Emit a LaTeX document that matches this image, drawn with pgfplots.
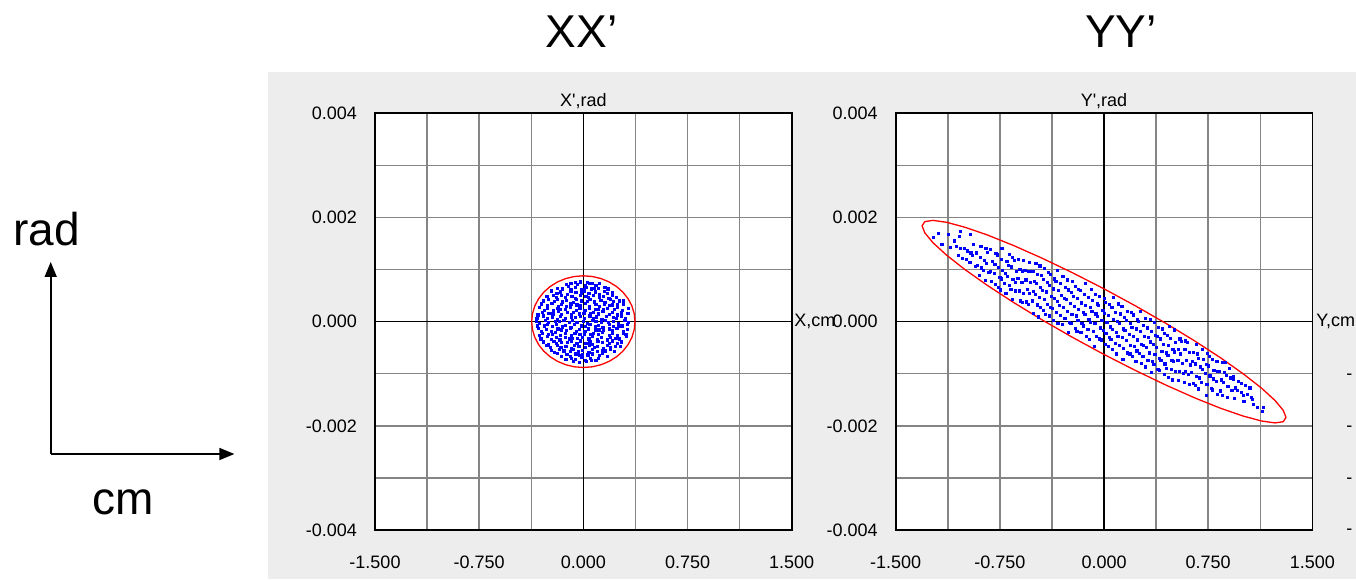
\documentclass[border=0pt]{standalone}
\usepackage{fontspec}
\setmainfont{Liberation Sans}
\usepackage{pgfplots}
\pgfplotsset{compat=1.18}
\usetikzlibrary{arrows.meta}
\definecolor{panelgray}{HTML}{EDEDED}
\definecolor{gridgray}{HTML}{858585}
\definecolor{ptblue}{HTML}{0000FF}
\definecolor{ellred}{HTML}{FF0000}
\pgfplotsset{
  phase/.style={
    scale only axis, width=208.35pt, height=208.35pt,
    anchor=south west,
    xmin=-1.5, xmax=1.5, ymin=-0.004, ymax=0.004,
    xtick={-1.5,-0.75,0,0.75,1.5},
    xticklabels={-1.500,-0.750,0.000,0.750,1.500},
    minor xtick={-1.125,-0.375,0.375,1.125},
    ytick={-0.004,-0.002,0,0.002,0.004},
    yticklabels={-0.004,-0.002,0.000,0.002,0.004},
    minor ytick={-0.003,-0.001,0.001,0.003},
    scaled x ticks=false, scaled y ticks=false,
    grid=both,
    major grid style={draw=gridgray, line width=0.75pt},
    minor grid style={draw=gridgray, line width=0.75pt},
    major tick length=0pt, minor tick length=0pt,
    axis line style={black, line width=0.85pt},
    axis background/.style={fill=white},
    tick label style={font=\fontsize{9}{10}\selectfont, text=black},
    xticklabel style={yshift=-9.5pt},
    yticklabel style={xshift=-5.5pt},
    /pgf/number format/assume math mode=true,
    clip=true,
  },
  dots/.style={only marks, mark=square*, mark size=0.55pt, color=ptblue, mark options={draw=ptblue, fill=ptblue}},
}
\begin{document}
\begin{tikzpicture}[x=1pt,y=1pt]
\useasboundingbox (0,0) rectangle (678,289.5);
\fill[panelgray] (134,0) rectangle (678,253.5);
% left explanatory arrows
\draw[line width=0.8pt, -{Triangle[length=7.5pt,width=6pt]}] (25.35,62.5) -- (25.35,158.5);
\draw[line width=0.8pt, -{Triangle[length=7.5pt,width=6pt]}] (25.35,62.5) -- (117.2,62.5);
\node[anchor=base west, inner sep=0pt, font=\fontsize{23}{26}\selectfont] at (6.5,166.7) {rad};
\node[anchor=base west, inner sep=0pt, font=\fontsize{23}{26}\selectfont] at (46,32) {cm};
\node[anchor=base, inner sep=0pt, font=\fontsize{23}{26}\selectfont] at (290.75,265.5) {XX’};
\node[anchor=base, inner sep=0pt, font=\fontsize{23}{26}\selectfont] at (560.5,265.5) {YY’};
% ---------------- XX' ----------------
\begin{axis}[phase, at={(187.5pt,24.5pt)}]
\draw[black, line width=0.6pt] (0,-0.004) -- (0,0.004);
\draw[black, line width=0.6pt] (-1.5,0) -- (1.5,0);
\addplot[dots] coordinates {
(-0.060,0.00075) (-0.020,0.00077) (0.030,0.00076) (0.065,0.00074)
(-0.120,0.00072) (-0.089,0.00074) (-0.045,0.00071) (-0.023,0.00075) (0.015,0.00070) (0.042,0.00073) (0.091,0.00069) (0.116,0.00074)
(-0.185,0.00064) (-0.150,0.00063) (-0.109,0.00067) (-0.089,0.00062) (-0.056,0.00065) (-0.010,0.00061) (0.019,0.00066) (0.056,0.00063) (0.080,0.00064) (0.111,0.00064) (0.155,0.00066) (0.177,0.00063)
(-0.228,0.00059) (-0.190,0.00054) (-0.163,0.00057) (-0.114,0.00053) (-0.089,0.00058) (-0.054,0.00056) (-0.013,0.00055) (0.007,0.00059) (0.040,0.00054) (0.086,0.00057) (0.115,0.00053) (0.152,0.00058) (0.176,0.00055) (0.207,0.00056)
(-0.262,0.00048) (-0.218,0.00050) (-0.196,0.00047) (-0.158,0.00051) (-0.131,0.00046) (-0.082,0.00049) (-0.057,0.00045) (-0.022,0.00050) (0.019,0.00048) (0.039,0.00047) (0.072,0.00051) (0.118,0.00046) (0.147,0.00049) (0.184,0.00045) (0.208,0.00050) (0.239,0.00047)
(-0.285,0.00040) (-0.254,0.00042) (-0.210,0.00039) (-0.188,0.00043) (-0.150,0.00038) (-0.123,0.00041) (-0.074,0.00037) (-0.049,0.00042) (-0.014,0.00040) (0.027,0.00039) (0.047,0.00043) (0.080,0.00038) (0.126,0.00041) (0.155,0.00037) (0.192,0.00042) (0.216,0.00039) (0.258,0.00040) (0.286,0.00040)
(-0.300,0.00034) (-0.261,0.00031) (-0.227,0.00035) (-0.180,0.00030) (-0.157,0.00033) (-0.121,0.00029) (-0.090,0.00034) (-0.046,0.00032) (-0.024,0.00031) (0.014,0.00035) (0.041,0.00030) (0.090,0.00033) (0.115,0.00029) (0.150,0.00034) (0.191,0.00031) (0.211,0.00032) (0.244,0.00032) (0.290,0.00034)
(-0.318,0.00027) (-0.281,0.00022) (-0.257,0.00025) (-0.215,0.00021) (-0.187,0.00026) (-0.168,0.00024) (-0.129,0.00023) (-0.095,0.00027) (-0.048,0.00022) (-0.025,0.00025) (0.011,0.00021) (0.042,0.00026) (0.086,0.00023) (0.108,0.00024) (0.146,0.00024) (0.173,0.00026) (0.222,0.00023) (0.247,0.00027) (0.282,0.00022) (0.323,0.00025)
(-0.327,0.00013) (-0.294,0.00018) (-0.248,0.00016) (-0.219,0.00015) (-0.182,0.00019) (-0.158,0.00014) (-0.116,0.00017) (-0.088,0.00013) (-0.069,0.00018) (-0.030,0.00015) (0.004,0.00016) (0.051,0.00016) (0.074,0.00018) (0.110,0.00015) (0.141,0.00019) (0.185,0.00014) (0.207,0.00017) (0.245,0.00013) (0.272,0.00018) (0.321,0.00016)
(-0.334,0.00007) (-0.285,0.00011) (-0.260,0.00006) (-0.225,0.00009) (-0.184,0.00005) (-0.164,0.00010) (-0.131,0.00007) (-0.085,0.00008) (-0.056,0.00008) (-0.019,0.00010) (0.005,0.00007) (0.047,0.00011) (0.075,0.00006) (0.094,0.00009) (0.133,0.00005) (0.167,0.00010) (0.214,0.00008) (0.237,0.00007) (0.273,0.00011) (0.304,0.00006)
(-0.336,0.00001) (-0.314,-0.00003) (-0.276,0.00002) (-0.249,-0.00001) (-0.200,0) (-0.175,0) (-0.140,0.00002) (-0.099,-0.00001) (-0.079,0.00003) (-0.046,-0.00002) (0.000,0.00001) (0.029,-0.00003) (0.066,0.00002) (0.090,0) (0.132,-0.00001) (0.160,0.00003) (0.179,-0.00002) (0.218,0.00001) (0.252,-0.00003) (0.299,0.00002) (0.322,-0.00001)
(-0.330,-0.00008) (-0.283,-0.00008) (-0.260,-0.00006) (-0.224,-0.00009) (-0.193,-0.00005) (-0.149,-0.00010) (-0.127,-0.00007) (-0.089,-0.00011) (-0.062,-0.00006) (-0.013,-0.00008) (0.012,-0.00009) (0.047,-0.00005) (0.088,-0.00010) (0.108,-0.00007) (0.141,-0.00011) (0.187,-0.00006) (0.216,-0.00009) (0.253,-0.00008) (0.277,-0.00008) (0.319,-0.00006)
(-0.322,-0.00013) (-0.303,-0.00018) (-0.264,-0.00015) (-0.230,-0.00019) (-0.183,-0.00014) (-0.160,-0.00016) (-0.124,-0.00017) (-0.093,-0.00013) (-0.049,-0.00018) (-0.027,-0.00015) (0.011,-0.00019) (0.038,-0.00014) (0.087,-0.00017) (0.112,-0.00016) (0.147,-0.00016) (0.188,-0.00014) (0.208,-0.00017) (0.241,-0.00013) (0.287,-0.00018) (0.316,-0.00015)
(-0.317,-0.00027) (-0.293,-0.00022) (-0.251,-0.00024) (-0.223,-0.00025) (-0.204,-0.00021) (-0.165,-0.00026) (-0.131,-0.00023) (-0.084,-0.00027) (-0.061,-0.00022) (-0.025,-0.00025) (0.006,-0.00024) (0.050,-0.00024) (0.072,-0.00022) (0.110,-0.00025) (0.137,-0.00021) (0.186,-0.00026) (0.211,-0.00023) (0.246,-0.00027) (0.287,-0.00022) (0.307,-0.00024)
(-0.305,-0.00033) (-0.259,-0.00029) (-0.230,-0.00034) (-0.193,-0.00031) (-0.169,-0.00035) (-0.127,-0.00030) (-0.099,-0.00033) (-0.080,-0.00032) (-0.041,-0.00032) (-0.007,-0.00030) (0.040,-0.00033) (0.063,-0.00029) (0.099,-0.00034) (0.130,-0.00031) (0.174,-0.00035) (0.196,-0.00030) (0.234,-0.00032) (0.261,-0.00033) (0.310,-0.00029)
(-0.288,-0.00039) (-0.253,-0.00043) (-0.212,-0.00038) (-0.192,-0.00041) (-0.159,-0.00040) (-0.113,-0.00040) (-0.084,-0.00038) (-0.047,-0.00041) (-0.023,-0.00037) (0.019,-0.00042) (0.047,-0.00039) (0.066,-0.00043) (0.105,-0.00038) (0.139,-0.00040) (0.186,-0.00041) (0.209,-0.00037) (0.245,-0.00042) (0.276,-0.00039)
(-0.262,-0.00046) (-0.235,-0.00049) (-0.186,-0.00045) (-0.161,-0.00050) (-0.126,-0.00047) (-0.085,-0.00051) (-0.065,-0.00046) (-0.032,-0.00048) (0.014,-0.00049) (0.043,-0.00045) (0.080,-0.00050) (0.104,-0.00047) (0.146,-0.00051) (0.174,-0.00046) (0.193,-0.00049) (0.232,-0.00048) (0.266,-0.00048)
(-0.230,-0.00055) (-0.207,-0.00059) (-0.171,-0.00054) (-0.140,-0.00056) (-0.096,-0.00057) (-0.074,-0.00053) (-0.036,-0.00058) (-0.009,-0.00055) (0.040,-0.00059) (0.065,-0.00054) (0.100,-0.00057) (0.141,-0.00056) (0.161,-0.00056) (0.194,-0.00054) (0.225,-0.00057)
(-0.185,-0.00061) (-0.156,-0.00066) (-0.119,-0.00063) (-0.095,-0.00067) (-0.053,-0.00062) (-0.025,-0.00065) (-0.006,-0.00064) (0.033,-0.00064) (0.067,-0.00062) (0.114,-0.00065) (0.137,-0.00061) (0.173,-0.00066)
(-0.125,-0.00072) (-0.087,-0.00070) (-0.060,-0.00073) (-0.011,-0.00069) (0.014,-0.00074) (0.049,-0.00071) (0.090,-0.00075) (0.110,-0.00070)
(-0.070,-0.00076) (-0.030,-0.00078) (0.020,-0.00077) (0.060,-0.00075)
};
\addplot[ellred, line width=0.65pt] coordinates {
(0.372,0) (0.3663,0.000153) (0.3496,0.000301) (0.3222,0.00044) (0.285,0.000566) (0.2391,0.000674) (0.186,0.000762) (0.1272,0.000827) (0.0646,0.000867) (0,0.00088)
(-0.0646,0.000867) (-0.1272,0.000827) (-0.186,0.000762) (-0.2391,0.000674) (-0.285,0.000566) (-0.3222,0.00044) (-0.3496,0.000301) (-0.3663,0.000153) (-0.372,0)
(-0.3663,-0.000153) (-0.3496,-0.000301) (-0.3222,-0.00044) (-0.285,-0.000566) (-0.2391,-0.000674) (-0.186,-0.000762) (-0.1272,-0.000827) (-0.0646,-0.000867) (0,-0.00088)
(0.0646,-0.000867) (0.1272,-0.000827) (0.186,-0.000762) (0.2391,-0.000674) (0.285,-0.000566) (0.3222,-0.00044) (0.3496,-0.000301) (0.3663,-0.000153) (0.372,0)
};
\end{axis}
% ---------------- YY' ----------------
\begin{axis}[phase, at={(447.85pt,24.5pt)}]
\draw[black, line width=0.6pt] (0,-0.004) -- (0,0.004);
\draw[black, line width=0.6pt] (-1.5,0) -- (1.5,0);
\addplot[dots] coordinates {
(-1.230,0.00161) (-1.167,0.00148) (-1.107,0.00142) (-1.035,0.00173) (-1.040,0.00163) (-0.963,0.00167) (-1.080,0.00155) (-1.190,0.00170) (-1.120,0.00168)
(-1.050,0.00127) (-1.032,0.00140) (-1.062,0.00145)
(-0.991,0.00119) (-1.020,0.00122) (-0.986,0.00136) (-1.006,0.00141)
(-0.929,0.00106) (-0.966,0.00114) (-0.946,0.00127) (-0.959,0.00132) (-0.938,0.00148)
(-0.900,0.00089) (-0.882,0.00103) (-0.912,0.00108) (-0.891,0.00124) (-0.920,0.00132) (-0.886,0.00145)
(-0.856,0.00079) (-0.829,0.00095) (-0.866,0.00098) (-0.846,0.00112) (-0.859,0.00117) (-0.838,0.00133) (-0.850,0.00141)
(-0.782,0.00072) (-0.812,0.00077) (-0.791,0.00093) (-0.820,0.00096) (-0.786,0.00110) (-0.806,0.00115) (-0.779,0.00131) (-0.816,0.00139)
(-0.746,0.00061) (-0.759,0.00066) (-0.738,0.00082) (-0.750,0.00085) (-0.732,0.00099) (-0.762,0.00104) (-0.741,0.00120) (-0.770,0.00128) (-0.736,0.00141)
(-0.706,0.00054) (-0.679,0.00070) (-0.716,0.00073) (-0.696,0.00087) (-0.709,0.00092) (-0.688,0.00108) (-0.700,0.00116) (-0.682,0.00129)
(-0.662,0.00043) (-0.641,0.00059) (-0.670,0.00062) (-0.636,0.00076) (-0.656,0.00081) (-0.629,0.00097) (-0.666,0.00105) (-0.646,0.00118) (-0.659,0.00123)
(-0.588,0.00037) (-0.600,0.00040) (-0.582,0.00054) (-0.612,0.00059) (-0.591,0.00075) (-0.620,0.00083) (-0.586,0.00096) (-0.606,0.00101) (-0.579,0.00117) (-0.616,0.00120)
(-0.546,0.00033) (-0.559,0.00038) (-0.538,0.00054) (-0.550,0.00062) (-0.532,0.00075) (-0.562,0.00080) (-0.541,0.00096) (-0.570,0.00099) (-0.536,0.00113)
(-0.506,0.00016) (-0.479,0.00032) (-0.516,0.00040) (-0.496,0.00053) (-0.509,0.00058) (-0.488,0.00074) (-0.500,0.00077) (-0.482,0.00091) (-0.512,0.00096) (-0.491,0.00112)
(-0.470,0.00009) (-0.436,0.00022) (-0.456,0.00027) (-0.429,0.00043) (-0.466,0.00046) (-0.446,0.00060) (-0.459,0.00065) (-0.438,0.00081) (-0.450,0.00089) (-0.432,0.00102) (-0.462,0.00107)
(-0.391,0.00011) (-0.420,0.00014) (-0.386,0.00028) (-0.406,0.00033) (-0.379,0.00049) (-0.416,0.00057) (-0.396,0.00070) (-0.409,0.00075) (-0.388,0.00091) (-0.400,0.00094)
(-0.332,-0.00004) (-0.362,0.00002) (-0.341,0.00018) (-0.370,0.00026) (-0.336,0.00039) (-0.356,0.00044) (-0.329,0.00060) (-0.366,0.00063) (-0.346,0.00077) (-0.359,0.00082) (-0.338,0.00098)
(-0.300,-0.00006) (-0.282,0.00007) (-0.312,0.00012) (-0.291,0.00028) (-0.320,0.00031) (-0.286,0.00045) (-0.306,0.00050) (-0.279,0.00066) (-0.316,0.00074) (-0.296,0.00087)
(-0.259,-0.00020) (-0.238,-0.00004) (-0.250,-0.00001) (-0.232,0.00014) (-0.262,0.00019) (-0.241,0.00035) (-0.270,0.00043) (-0.236,0.00056) (-0.256,0.00061) (-0.229,0.00077) (-0.266,0.00080)
(-0.196,-0.00018) (-0.209,-0.00013) (-0.188,0.00003) (-0.200,0.00011) (-0.182,0.00024) (-0.212,0.00029) (-0.191,0.00045) (-0.220,0.00048) (-0.186,0.00062) (-0.206,0.00067)
(-0.129,-0.00029) (-0.166,-0.00020) (-0.146,-0.00008) (-0.159,-0.00003) (-0.138,0.00014) (-0.150,0.00017) (-0.132,0.00031) (-0.162,0.00036) (-0.141,0.00052) (-0.170,0.00060) (-0.136,0.00073)
(-0.106,-0.00034) (-0.079,-0.00018) (-0.116,-0.00015) (-0.096,-0.00001) (-0.109,0.00004) (-0.088,0.00020) (-0.100,0.00028) (-0.082,0.00041) (-0.112,0.00046) (-0.091,0.00062)
(-0.070,-0.00047) (-0.036,-0.00033) (-0.056,-0.00028) (-0.029,-0.00012) (-0.066,-0.00004) (-0.046,0.00010) (-0.059,0.00015) (-0.038,0.00031) (-0.050,0.00034) (-0.032,0.00048) (-0.062,0.00053)
(0.009,-0.00043) (-0.020,-0.00035) (0.014,-0.00022) (-0.006,-0.00017) (0.021,-0.00001) (-0.016,0.00002) (0.004,0.00016) (-0.009,0.00021) (0.012,0.00037) (0.000,0.00045)
(0.070,0.00047) (0.036,0.00033) (0.056,0.00028) (0.029,0.00012) (0.066,0.00004) (0.046,-0.00010) (0.059,-0.00015) (0.038,-0.00031) (0.050,-0.00034) (0.032,-0.00048) (0.062,-0.00053)
(0.106,0.00034) (0.079,0.00018) (0.116,0.00015) (0.096,0.00001) (0.109,-0.00004) (0.088,-0.00020) (0.100,-0.00028) (0.082,-0.00041) (0.112,-0.00046) (0.091,-0.00062)
(0.129,0.00029) (0.166,0.00020) (0.146,0.00008) (0.159,0.00003) (0.138,-0.00014) (0.150,-0.00017) (0.132,-0.00031) (0.162,-0.00036) (0.141,-0.00052) (0.170,-0.00060) (0.136,-0.00073)
(0.196,0.00018) (0.209,0.00013) (0.188,-0.00003) (0.200,-0.00011) (0.182,-0.00024) (0.212,-0.00029) (0.191,-0.00045) (0.220,-0.00048) (0.186,-0.00062) (0.206,-0.00067)
(0.259,0.00020) (0.238,0.00004) (0.250,0.00001) (0.232,-0.00014) (0.262,-0.00019) (0.241,-0.00035) (0.270,-0.00043) (0.236,-0.00056) (0.256,-0.00061) (0.229,-0.00077) (0.266,-0.00080)
(0.300,0.00006) (0.282,-0.00007) (0.312,-0.00012) (0.291,-0.00028) (0.320,-0.00031) (0.286,-0.00045) (0.306,-0.00050) (0.279,-0.00066) (0.316,-0.00074) (0.296,-0.00087)
(0.332,0.00004) (0.362,-0.00002) (0.341,-0.00018) (0.370,-0.00026) (0.336,-0.00039) (0.356,-0.00044) (0.329,-0.00060) (0.366,-0.00063) (0.346,-0.00077) (0.359,-0.00082) (0.338,-0.00098)
(0.391,-0.00011) (0.420,-0.00014) (0.386,-0.00028) (0.406,-0.00033) (0.379,-0.00049) (0.416,-0.00057) (0.396,-0.00070) (0.409,-0.00075) (0.388,-0.00091) (0.400,-0.00094)
(0.470,-0.00009) (0.436,-0.00022) (0.456,-0.00027) (0.429,-0.00043) (0.466,-0.00046) (0.446,-0.00060) (0.459,-0.00065) (0.438,-0.00081) (0.450,-0.00089) (0.432,-0.00102) (0.462,-0.00107)
(0.506,-0.00016) (0.479,-0.00032) (0.516,-0.00040) (0.496,-0.00053) (0.509,-0.00058) (0.488,-0.00074) (0.500,-0.00077) (0.482,-0.00091) (0.512,-0.00096) (0.491,-0.00112)
(0.546,-0.00033) (0.559,-0.00038) (0.538,-0.00054) (0.550,-0.00062) (0.532,-0.00075) (0.562,-0.00080) (0.541,-0.00096) (0.570,-0.00099) (0.536,-0.00113)
(0.588,-0.00037) (0.600,-0.00040) (0.582,-0.00054) (0.612,-0.00059) (0.591,-0.00075) (0.620,-0.00083) (0.586,-0.00096) (0.606,-0.00101) (0.579,-0.00117) (0.616,-0.00120)
(0.662,-0.00043) (0.641,-0.00059) (0.670,-0.00062) (0.636,-0.00076) (0.656,-0.00081) (0.629,-0.00097) (0.666,-0.00105) (0.646,-0.00118) (0.659,-0.00123)
(0.706,-0.00054) (0.679,-0.00070) (0.716,-0.00073) (0.696,-0.00087) (0.709,-0.00092) (0.688,-0.00108) (0.700,-0.00116) (0.682,-0.00129)
(0.746,-0.00061) (0.759,-0.00066) (0.738,-0.00082) (0.750,-0.00085) (0.732,-0.00099) (0.762,-0.00104) (0.741,-0.00120) (0.770,-0.00128) (0.736,-0.00141)
(0.782,-0.00072) (0.812,-0.00077) (0.791,-0.00093) (0.820,-0.00096) (0.786,-0.00110) (0.806,-0.00115) (0.779,-0.00131) (0.816,-0.00139)
(0.856,-0.00079) (0.829,-0.00095) (0.866,-0.00098) (0.846,-0.00112) (0.859,-0.00117) (0.838,-0.00133) (0.850,-0.00141)
(0.900,-0.00089) (0.882,-0.00103) (0.912,-0.00108) (0.891,-0.00124) (0.920,-0.00132) (0.886,-0.00145)
(0.929,-0.00106) (0.966,-0.00114) (0.946,-0.00127) (0.959,-0.00132) (0.938,-0.00148)
(0.991,-0.00119) (1.020,-0.00122) (0.986,-0.00136) (1.006,-0.00141)
(1.050,-0.00127) (1.032,-0.00140) (1.062,-0.00145)
(1.007,-0.00153) (1.069,-0.00149) (1.078,-0.00159) (1.105,-0.00165) (1.150,-0.00165) (1.140,-0.00172) (0.934,-0.00111) (0.876,-0.00079)
};
\addplot[ellred, line width=0.65pt] coordinates {
(1.31,-0.00184) (1.2901,-0.001703) (1.231,-0.001514) (1.1345,-0.001278) (1.0035,-0.001004) (0.8421,-0.0007) (0.655,-0.000374) (0.448,-0.000037) (0.2274,0.000301) (0,0.00063)
(-0.2274,0.000939) (-0.448,0.001221) (-0.655,0.001466) (-0.8421,0.001666) (-1.0035,0.001814) (-1.1345,0.001908) (-1.231,0.001944) (-1.2901,0.001921) (-1.31,0.00184)
(-1.2901,0.001703) (-1.231,0.001514) (-1.1345,0.001278) (-1.0035,0.001004) (-0.8421,0.0007) (-0.655,0.000374) (-0.448,0.000037) (-0.2274,-0.000301) (0,-0.00063)
(0.2274,-0.000939) (0.448,-0.001221) (0.655,-0.001466) (0.8421,-0.001666) (1.0035,-0.001814) (1.1345,-0.001908) (1.231,-0.001944) (1.2901,-0.001921) (1.31,-0.00184)
};
\end{axis}
% in-panel labels
\node[anchor=base, inner sep=0pt, font=\fontsize{9}{10}\selectfont] at (291.7,236) {X\textquotesingle,rad};
\node[anchor=base, inner sep=0pt, font=\fontsize{9}{10}\selectfont] at (552,236) {Y\textquotesingle,rad};
\node[anchor=base west, inner sep=0pt, font=\fontsize{9}{10}\selectfont] at (397,126) {X,cm};
\node[anchor=base west, inner sep=0pt, font=\fontsize{9}{10}\selectfont] at (658,126) {Y,cm};
\foreach \yy in {101,75,49,23.5} {
  \node[anchor=west, inner sep=0pt, font=\fontsize{9}{10}\selectfont] at (673,\yy) {-};
}
\end{tikzpicture}
\end{document}
